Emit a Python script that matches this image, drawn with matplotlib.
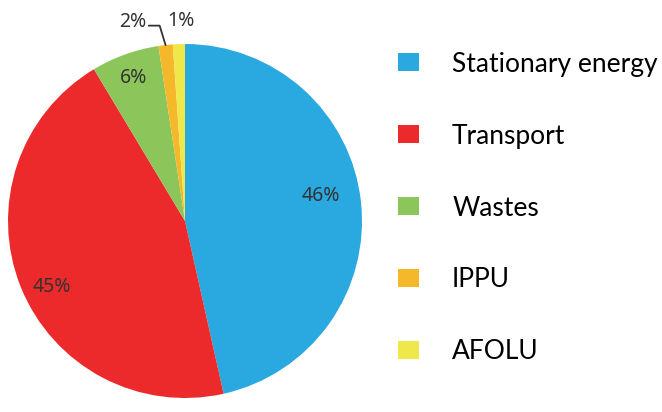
import numpy as np
import matplotlib
matplotlib.use("Agg")
import matplotlib.pyplot as plt

categories = ["Stationary energy", "Transport", "Wastes", "IPPU", "AFOLU"]
values = [46.5, 44.9, 6.2, 1.3, 1.1]
pct_labels = ["46%", "45%", "6%", "2%", "1%"]
colors = ["#2AA8E0", "#EC2A2B", "#8CC65A", "#F5B82A", "#EEE84A"]

W, H = 662, 412
fig = plt.figure(figsize=(W / 100, H / 100), dpi=100)
cx, cy, r = 185, 221, 177
ax = fig.add_axes([(cx - r) / W, (H - cy - r) / H, 2 * r / W, 2 * r / H])

wedges, _ = ax.pie(values, colors=colors, startangle=90, counterclock=False,
                   radius=1.0, wedgeprops=dict(linewidth=0))
ax.set_xlim(-1, 1)
ax.set_ylim(-1, 1)
ax.set_aspect("equal")
ax.axis("off")

pct_font = dict(family=["Noto Sans", "DejaVu Sans"], fontsize=14, color="#333333")
# inner labels: (radius factor, angle offset in degrees)
inner = {0: (0.78, 4.0), 1: (0.84, 4.5), 2: (0.86, 0.0)}
for i, w in enumerate(wedges):
    mid = np.deg2rad((w.theta1 + w.theta2) / 2)
    if i in inner:
        rf, off = inner[i]
        a = mid + np.deg2rad(off)
        ax.text(rf * np.cos(a), rf * np.sin(a), pct_labels[i], ha="center", va="center", **pct_font)
    elif i == 4:
        rf = 1.13
        a = mid + np.deg2rad(-0.8)
        ax.text(rf * np.cos(a), rf * np.sin(a), pct_labels[i], ha="center", va="center", **pct_font)
    else:
        a_txt = mid + np.deg2rad(8.5)
        ax.annotate(pct_labels[i], xy=(1.0 * np.cos(mid), 1.0 * np.sin(mid)),
                    xytext=(1.165 * np.cos(a_txt), 1.165 * np.sin(a_txt)),
                    ha="center", va="center", annotation_clip=False,
                    arrowprops=dict(arrowstyle="-", color="#333333", lw=1.3,
                                    shrinkA=0, shrinkB=0, relpos=(1.05, 0.3),
                                    connectionstyle="angle,angleA=0,angleB=107,rad=0"),
                    **pct_font)

leg = fig.legend(wedges, categories, loc="center left",
                 bbox_to_anchor=(398 / W, (H - 208) / H),
                 frameon=False, borderpad=0, borderaxespad=0,
                 prop=dict(family=["Lato", "DejaVu Sans"], size=19),
                 handlelength=0.8, handleheight=0.65, handletextpad=1.25,
                 labelspacing=1.78)

fig.savefig("out.png", dpi=100)
